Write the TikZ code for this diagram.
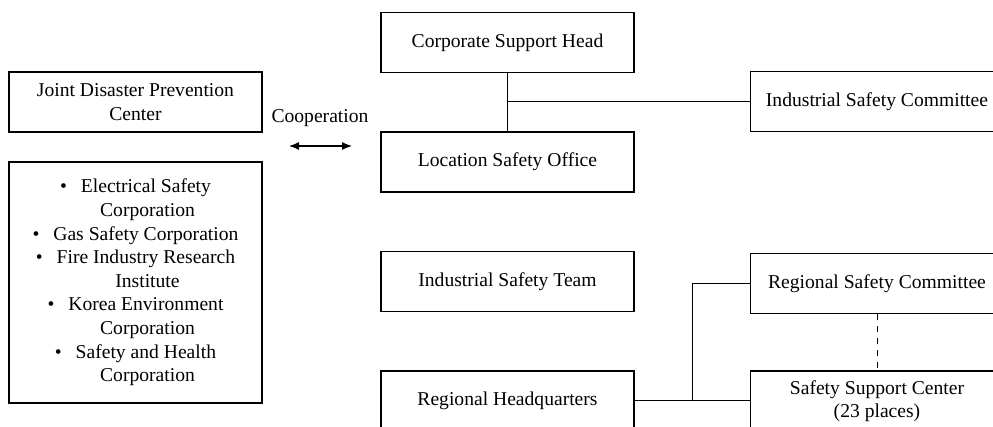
\documentclass[tikz,border=0pt]{standalone}
\usepackage{fontspec}
\setmainfont{Liberation Serif}
\usetikzlibrary{arrows, arrows.meta, positioning, calc}

\newcommand{\itembullet}{\textbullet\hspace{7pt}}
\newcommand{\itemcont}{\hspace*{12pt}}

\begin{document}
\begin{tikzpicture}[
    x=0.5pt, y=-0.5pt,
    box/.style={draw, line width=0.9pt, rectangle, inner sep=0pt, minimum width=126.5pt, minimum height=30pt, align=center, font=\fontsize{9.8}{11.8}\selectfont},
    link/.style={line width=0.5pt}
]
\useasboundingbox (0,0) rectangle (993,427);
\clip (0,0) rectangle (993,427);

% Partner side (left)
\node[box] (jdpc) at (135.5, 102) {Joint Disaster Prevention\\Center};
\node[box, minimum height=120.5pt] (partners) at (135.5, 282.5) {
\itembullet Electrical Safety\\
\itemcont Corporation\\
\itembullet Gas Safety Corporation\\
\itembullet Fire Industry Research\\
\itemcont Institute\\
\itembullet Korea Environment\\
\itemcont Corporation\\
\itembullet Safety and Health\\
\itemcont Corporation};

% Cooperation arrow
\node[font=\fontsize{9.8}{11.8}\selectfont] (coop) at (320, 118) {Cooperation};
\coordinate (coopL) at (289, 146);
\coordinate (coopR) at (352, 146);
\draw[{Latex[length=5pt,width=4pt]}-{Latex[length=5pt,width=4pt]}, line width=0.6pt] (coopL) -- (coopR);

% Head office
\node[box] (csh) at (507.5, 42.5) {Corporate Support Head};
\node[box] (lso) at (507.5, 162) {Location Safety Office};
\node[box] (isc) at (877, 101.5) {Industrial Safety Committee};

\draw[link] (csh.south) -- (lso.north);
\draw[link] (csh.south |- isc.west) -- (isc.west);

% Regional organisation
\node[box] (ist) at (507.5, 281.5) {Industrial Safety Team};
\node[box] (rhq) at (507.5, 401) {Regional Headquarters};
\node[box] (rsc) at (877, 283.5) {Regional Safety Committee};
\node[box] (ssc) at (877, 401) {Safety Support Center\\(23 places)};

\draw[link] (rhq.east) -- (ssc.west);
\draw[link] ($(rhq.east)!0.5!(ssc.west)$) |- (rsc.west);
\draw[link, dashed] (rsc.south) -- (ssc.north);

\end{tikzpicture}
\end{document}
